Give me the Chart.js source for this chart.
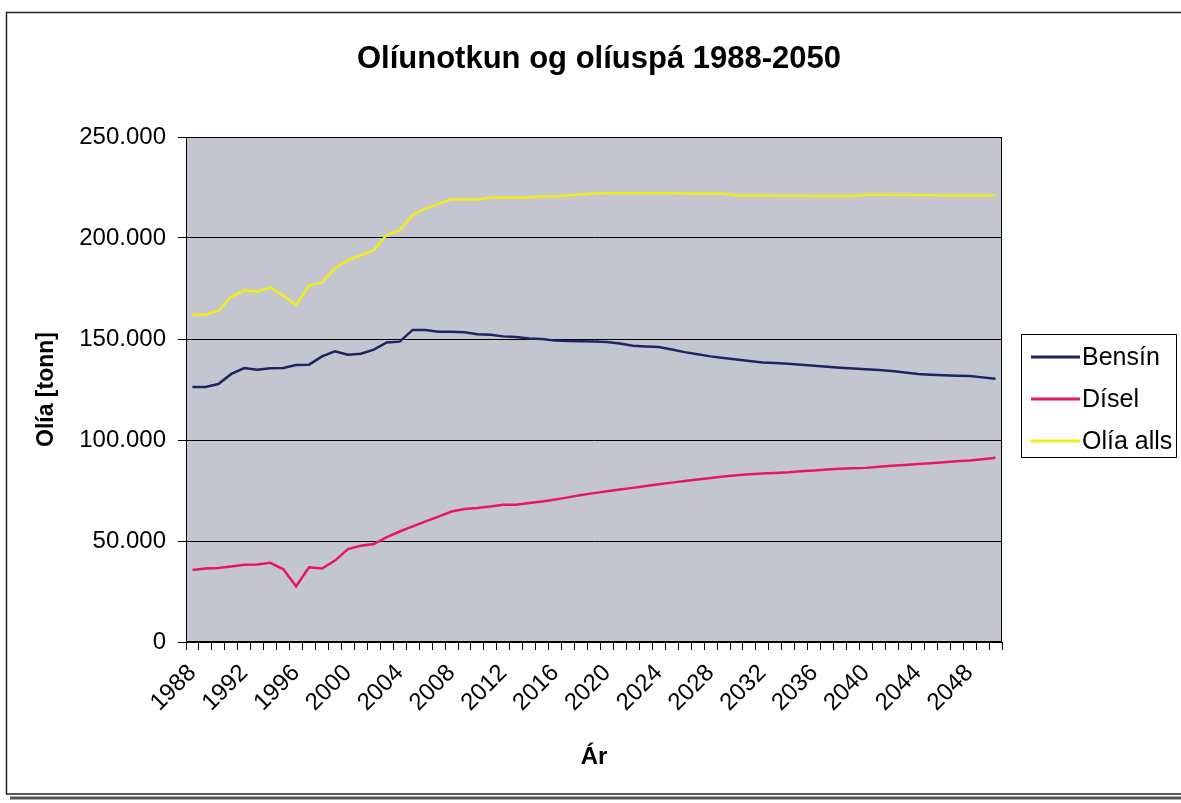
<!DOCTYPE html>
<html>
<head>
<meta charset="utf-8">
<script src="https://cdn.jsdelivr.net/npm/chart.js@4/dist/chart.umd.min.js"></script>
<style>
  html, body { margin: 0; padding: 0; background: #fff; }
  #wrap { width: 1181px; height: 803px; position: relative; }
</style>
</head>
<body>
<div id="wrap"><canvas id="oilChart" width="1181" height="803"></canvas></div>
<script>
const chartTitle = 'Olíunotkun og olíuspá 1988-2050';

const years = [
  '1988','1989','1990','1991','1992','1993','1994','1995','1996','1997',
  '1998','1999','2000','2001','2002','2003','2004','2005','2006','2007',
  '2008','2009','2010','2011','2012','2013','2014','2015','2016','2017',
  '2018','2019','2020','2021','2022','2023','2024','2025','2026','2027',
  '2028','2029','2030','2031','2032','2033','2034','2035','2036','2037',
  '2038','2039','2040','2041','2042','2043','2044','2045','2046','2047',
  '2048','2049','2050'
];

const bensin = [
  126200, 126200, 127700, 132700, 135600, 134800, 135500, 135600, 137100, 137300,
  141400, 143900, 142200, 142700, 144700, 148300, 148700, 154500, 154500, 153600,
  153600, 153300, 152300, 152100, 151300, 151000, 150200, 150000, 149200, 149000,
  148900, 148800, 148500, 147800, 146700, 146300, 146000, 144800, 143500, 142400,
  141400, 140600, 139800, 139100, 138400, 138100, 137800, 137300, 136800, 136300,
  135800, 135400, 135000, 134600, 134200, 133400, 132700, 132300, 132000, 131800,
  131700, 131000, 130300
];

const disel = [
  35600, 36400, 36600, 37400, 38200, 38400, 39200, 36100, 27600, 37000,
  36400, 40300, 46000, 47600, 48500, 51900, 54700, 57200, 59700, 62100,
  64600, 65800, 66300, 67100, 68000, 68000, 68800, 69600, 70500, 71600,
  72800, 73700, 74600, 75500, 76300, 77200, 78100, 78900, 79700, 80500,
  81200, 81900, 82500, 83000, 83400, 83700, 84000, 84500, 84900, 85400,
  85800, 86000, 86200, 86700, 87200, 87600, 88100, 88500, 89000, 89500,
  89900, 90500, 91200
];

const oliaAlls = [
  162000, 162000, 164000, 171000, 174000, 173500, 175500, 171500, 166700, 176600,
  178000, 185000, 189000, 191400, 194000, 201600, 203800, 211500, 214500, 217000,
  219000, 219000, 219000, 220000, 220000, 220000, 220000, 220600, 220600, 221000,
  221500, 222000, 222200, 222200, 222200, 222100, 222100, 222100, 222000, 222000,
  222000, 221900, 221000, 221000, 221000, 220900, 220900, 220900, 220800, 220800,
  220800, 220800, 221400, 221400, 221300, 221300, 221200, 221200, 221100, 221100,
  221000, 221000, 221000
];

const yTicks = [0, 50000, 100000, 150000, 200000, 250000];

const FONT = 'Arial, "Liberation Sans", sans-serif';

// grey plot area, title, frame around the whole sheet, and the boxed legend
const decor = {
  id: 'decor',
  beforeDraw(chart) {
    const { ctx, chartArea: a } = chart;
    ctx.save();
    ctx.fillStyle = '#c3c6ce';
    ctx.fillRect(a.left, a.top, a.right - a.left, a.bottom - a.top);
    ctx.restore();
  },
  afterDraw(chart) {
    const { ctx, chartArea: a } = chart;
    ctx.save();
    // plot border
    ctx.strokeStyle = '#000';
    ctx.lineWidth = 1;
    ctx.strokeRect(a.left + 0.5, a.top + 0.5, a.right - a.left - 1, a.bottom - a.top - 1);

    // title, centred a bit right of the plot centre like the original
    ctx.fillStyle = '#000';
    ctx.font = 'bold 31px ' + FONT;
    ctx.textAlign = 'center';
    ctx.textBaseline = 'middle';
    ctx.fillText(chartTitle, 599, 59);

    // outer frame
    ctx.strokeStyle = '#222';
    ctx.lineWidth = 1.5;
    ctx.beginPath();
    ctx.moveTo(1181, 12.5);
    ctx.lineTo(6.5, 12.5);
    ctx.lineTo(6.5, 794);
    ctx.lineTo(1181, 794);
    ctx.stroke();
    ctx.strokeStyle = '#555';
    ctx.lineWidth = 3;
    ctx.beginPath();
    ctx.moveTo(10, 798);
    ctx.lineTo(1181, 798);
    ctx.stroke();

    // legend
    const lx = 1021, ly = 334, lw = 155, lh = 123;
    ctx.fillStyle = '#fff';
    ctx.fillRect(lx, ly, lw, lh);
    ctx.strokeStyle = '#000';
    ctx.lineWidth = 1;
    ctx.strokeRect(lx + 0.5, ly + 0.5, lw, lh);
    ctx.font = '25px ' + FONT;
    ctx.textBaseline = 'middle';
    ctx.textAlign = 'left';
    chart.data.datasets.forEach((ds, i) => {
      const y = 357 + i * 42;
      ctx.strokeStyle = ds.borderColor;
      ctx.lineWidth = 3;
      ctx.beginPath();
      ctx.moveTo(1031, y);
      ctx.lineTo(1080, y);
      ctx.stroke();
      ctx.fillStyle = '#000';
      ctx.fillText(ds.label, 1082, y + 1);
    });
    ctx.restore();
  }
};

new Chart(document.getElementById('oilChart').getContext('2d'), {
  type: 'line',
  data: {
    labels: years,
    datasets: [
      { label: 'Bensín', data: bensin, borderColor: '#1c2463', borderWidth: 2.5 },
      { label: 'Dísel', data: disel, borderColor: '#e8175d', borderWidth: 2.5 },
      { label: 'Olía alls', data: oliaAlls, borderColor: '#f0ec1a', borderWidth: 2.5 }
    ]
  },
  options: {
    responsive: false,
    animation: false,
    elements: { point: { radius: 0 }, line: { tension: 0 } },
    layout: { padding: { left: 10, top: 137, right: 179, bottom: 10 } },
    plugins: {
      legend: { display: false },
      tooltip: { enabled: false },
      title: { display: false }
    },
    scales: {
      x: {
        offset: true,
        grid: { drawOnChartArea: false, offset: true, tickLength: 8, color: '#000' },
        border: { color: '#000', width: 1 },
        ticks: {
          autoSkip: false,
          maxRotation: 45,
          minRotation: 45,
          padding: 9,
          color: '#000',
          font: { family: FONT, size: 24 },
          callback: (v, i) => (i % 4 === 0 ? years[i] : '')
        },
        title: {
          display: true,
          text: 'Ár',
          color: '#000',
          font: { family: FONT, size: 24, weight: 'bold' },
          padding: { top: 0, bottom: 21 }
        },
        afterFit: s => { s.height = 151; }
      },
      y: {
        min: 0,
        max: 250000,
        afterBuildTicks: s => { s.ticks = yTicks.map(v => ({ value: v })); },
        grid: { color: '#000', lineWidth: 1, tickLength: 8 },
        border: { color: '#000', width: 1 },
        ticks: {
          padding: 12,
          color: '#000',
          font: { family: FONT, size: 24 },
          callback: v => (v === 0 ? '0' : (v / 1000) + '.000')
        },
        title: {
          display: true,
          text: 'Olía [tonn]',
          color: '#000',
          font: { family: FONT, size: 23, weight: 'bold' },
          padding: { top: 23, bottom: 0 }
        },
        afterFit: s => { s.width = 176; }
      }
    }
  },
  plugins: [decor]
});
</script>
</body>
</html>
